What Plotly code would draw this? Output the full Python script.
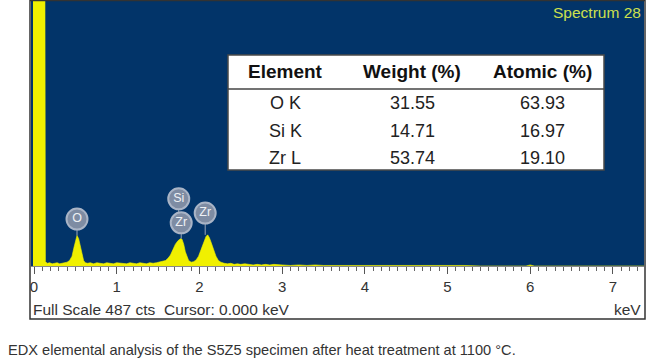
import plotly.graph_objects as go

# ---------------- data ----------------
energy_kev = [-0.012, 0.128, 0.138, 0.16, 0.19, 0.22, 0.25, 0.28, 0.31, 0.34, 0.37, 0.40,
              0.43, 0.46, 0.48, 0.50, 0.52, 0.54, 0.56, 0.58, 0.60, 0.62, 0.65, 0.68,
              0.72, 0.76, 0.80, 0.84, 0.88, 0.92, 0.96, 1.00, 1.04, 1.08, 1.12, 1.16,
              1.20, 1.24, 1.28, 1.32, 1.36, 1.40, 1.44, 1.48, 1.52, 1.56, 1.59, 1.62,
              1.65, 1.68, 1.71, 1.74, 1.77, 1.79, 1.81, 1.83, 1.85, 1.87, 1.90, 1.93,
              1.96, 1.99, 2.02, 2.05, 2.08, 2.10, 2.12, 2.14, 2.17, 2.20, 2.23, 2.26,
              2.30, 2.34, 2.38, 2.42, 2.46, 2.50, 2.55, 2.60, 2.65, 2.70, 2.75, 2.80,
              2.85, 2.90, 2.95, 3.00, 3.10, 3.20, 3.30, 3.40, 3.50, 3.60, 3.70, 3.80,
              3.90, 4.00, 4.10, 4.20, 4.30, 4.40, 4.50, 4.60, 4.70, 4.80, 4.90, 5.00,
              5.10, 5.20, 5.40, 5.60, 5.80, 5.95, 6.00, 6.05, 6.30, 6.60, 6.90, 7.20, 7.40]
counts = [900, 900, 8, 5, 6, 4, 5, 6, 4, 5, 6, 7,
          10, 18, 32, 46, 56, 50, 36, 20, 10, 6, 5, 6,
          4, 6, 5, 4, 6, 5, 4, 6, 5, 5, 4, 6,
          5, 4, 6, 5, 4, 6, 5, 6, 7, 8, 10, 14,
          20, 30, 40, 46, 50, 49, 40, 26, 16, 10, 7, 8,
          11, 18, 30, 42, 54, 57, 52, 44, 30, 18, 10, 7,
          5, 4, 5, 3, 4, 3, 4, 3, 2, 3, 2, 3,
          2, 3, 2, 2, 1, 2, 1, 2, 1, 1, 2, 1,
          1, 2, 1, 1, 2, 1, 2, 1, 1, 2, 1, 1,
          2, 1, 0, 0, 0, 0, 2, 0, 0, 0, 0, 0, 0]

peak_labels = ["O", "Zr", "Zr", "Si"]
label_energy = [0.52, 1.78, 2.07, 1.75]
label_counts = [86, 79, 97, 123]
label_peak_counts = [56, 50, 57, 79]

full_scale_cts = 487
tick_values = [0, 1, 2, 3, 4, 5, 6, 7]
spectrum_name = "Spectrum 28"
status_text = "Full Scale 487 cts  Cursor: 0.000 keV"

table_header = ["Element", "Weight (%)", "Atomic (%)"]
table_element = ["O K", "Si K", "Zr L"]
table_weight = ["31.55", "14.71", "53.74"]
table_atomic = ["63.93", "16.97", "19.10"]

caption = "EDX elemental analysis of the S5Z5 specimen after heat treatment at 1100 °C."

# ---------------- figure ----------------
W, H = 650, 362
BLUE = "#023469"
YELLOW = "#f0f000"
FONT = "Liberation Sans, Arial, sans-serif"


def px(x):
    return x / W


def py(y):
    return 1 - y / H


fig = go.Figure()

fig.add_trace(go.Scatter(
    x=energy_kev, y=counts, mode="lines", fill="tozeroy",
    line=dict(color=YELLOW, width=0.6), fillcolor=YELLOW,
    hoverinfo="skip", showlegend=False))

# connector lines from labels to peaks
for e, c0, c1 in zip(label_energy, label_counts, label_peak_counts):
    fig.add_trace(go.Scatter(
        x=[e, e], y=[c0, c1], mode="lines",
        line=dict(color="#9aa6b8", width=1),
        hoverinfo="skip", showlegend=False))

fig.add_trace(go.Scatter(
    x=label_energy, y=label_counts, mode="markers+text",
    text=peak_labels, textposition="middle center",
    textfont=dict(family=FONT, size=12.5, color="#eef1f5"),
    marker=dict(size=21, color="#7e8ca3", line=dict(color="#a9b4c6", width=2)),
    hoverinfo="skip", showlegend=False))

plot_left, plot_right, plot_bottom = 31, 644, 266
zero_px, px_per_kev = 34, 82.7

fig.update_layout(
    width=W, height=H,
    margin=dict(l=0, r=0, t=0, b=0),
    paper_bgcolor="white",
    plot_bgcolor=BLUE,
    showlegend=False,
    xaxis=dict(
        domain=[px(plot_left), px(plot_right)],
        range=[(plot_left - zero_px) / px_per_kev, (plot_right - zero_px) / px_per_kev],
        tickvals=tick_values,
        ticktext=[str(t) for t in tick_values],
        ticks="outside", ticklen=7, tickwidth=1, tickcolor="#555",
        minor=dict(dtick=0.1, ticks="outside", ticklen=4, tickcolor="#666", tickwidth=1),
        showgrid=False, zeroline=False,
        showline=True, linecolor="#888", linewidth=1,
        tickfont=dict(family=FONT, size=15, color="#333"),
        fixedrange=True,
    ),
    yaxis=dict(
        domain=[py(plot_bottom), 1],
        range=[0, full_scale_cts],
        showticklabels=False, ticks="", showgrid=False, zeroline=False,
        showline=False, fixedrange=True,
    ),
)

shapes = []
# outer frame
shapes.append(dict(type="rect", xref="paper", yref="paper",
                   x0=px(30), x1=px(645), y0=py(319), y1=py(0.5),
                   line=dict(color="#333", width=1.5), fillcolor="rgba(0,0,0,0)"))
# table box
tx0, tx1, ty0, ty1 = 228, 604, 55, 170
shapes.append(dict(type="rect", xref="paper", yref="paper",
                   x0=px(tx0), x1=px(tx1), y0=py(ty1), y1=py(ty0),
                   line=dict(color="#4a4a4a", width=1.5), fillcolor="white"))
shapes.append(dict(type="line", xref="paper", yref="paper",
                   x0=px(tx0), x1=px(tx1), y0=py(89), y1=py(89),
                   line=dict(color="#444", width=1.5)))
fig.update_layout(shapes=shapes)

ann = []
col_x = [285, 412, 542]
row_y = [103, 131, 158]
for cx, h in zip(col_x, table_header):
    ann.append(dict(x=px(cx), y=py(72), xref="paper", yref="paper", text="<b>%s</b>" % h,
                    showarrow=False, xanchor="center", yanchor="middle",
                    font=dict(family=FONT, size=19, color="#111")))
for cols in zip(table_element, table_weight, table_atomic, row_y):
    ry = cols[3]
    for cx, val in zip(col_x, cols[:3]):
        ann.append(dict(x=px(cx), y=py(ry), xref="paper", yref="paper", text=val,
                        showarrow=False, xanchor="center", yanchor="middle",
                        font=dict(family=FONT, size=18, color="#222")))

ann.append(dict(x=px(643), y=py(13), xref="paper", yref="paper", text=spectrum_name,
                showarrow=False, xanchor="right", yanchor="middle",
                font=dict(family=FONT, size=15.5, color="#cde04e")))
ann.append(dict(x=px(31), y=py(309), xref="paper", yref="paper", text=status_text,
                showarrow=False, xanchor="left", yanchor="middle",
                font=dict(family=FONT, size=15.5, color="#333")))
ann.append(dict(x=px(643), y=py(309), xref="paper", yref="paper", text="keV",
                showarrow=False, xanchor="right", yanchor="middle",
                font=dict(family=FONT, size=15.5, color="#333")))
ann.append(dict(x=px(6), y=py(350), xref="paper", yref="paper", text=caption,
                showarrow=False, xanchor="left", yanchor="middle",
                font=dict(family=FONT, size=14.6, color="#333")))
fig.update_layout(annotations=ann)

fig.write_html("out.html")
